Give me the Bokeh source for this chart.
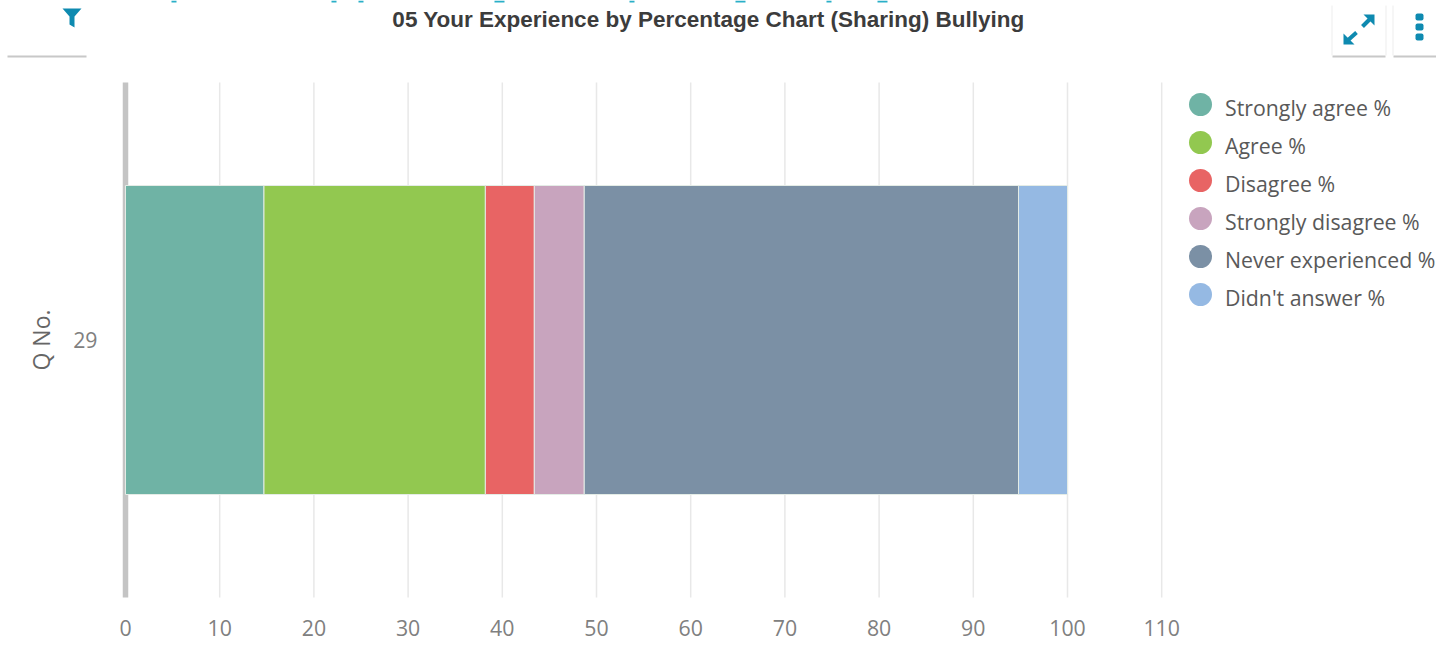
from bokeh.plotting import figure
from bokeh.embed import file_html
from bokeh.resources import INLINE
from bokeh.models import (FixedTicker, Range1d, Label, BoxAnnotation, PolyAnnotation,
                          Arrow, LinearAxis)
from bokeh.core.properties import value

categories = ["29"]
series = ["Strongly agree %", "Agree %", "Disagree %", "Strongly disagree %",
          "Never experienced %", "Didn't answer %"]
strongly_agree = [14.7]
agree = [23.5]
disagree = [5.2]
strongly_disagree = [5.3]
never_experienced = [46.1]
didnt_answer = [5.2]
colors = ["#6FB3A5", "#92C850", "#E86464", "#C8A4BE", "#7B90A5", "#95B9E3"]
x_ticks = list(range(0, 111, 10))
title_text = "05 Your Experience by Percentage Chart (Sharing) Bullying"
y_title = "Q No."

W, H = 1436, 653
LEFT, TOP, BOTTOM = 125, 82, 597
PX_PER_UNIT = 9.42
PX_PER_ROW = BOTTOM - TOP
FONT = "Open Sans"
ICON = "#0E8AB0"
SIZE = "21.3px"
ROW_LOW, ROW_HIGH = -0.5, len(categories) - 0.5

# the frame fills the canvas so that the page's buttons and icons can be drawn on it;
# the axes are pinned to the plot area with fixed_location
p = figure(width=W, height=H, output_backend="svg", toolbar_location=None,
           x_axis_location=None, y_axis_location=None,
           x_range=Range1d(-LEFT / PX_PER_UNIT, (W - LEFT) / PX_PER_UNIT),
           y_range=Range1d(ROW_LOW - (H - BOTTOM) / PX_PER_ROW, ROW_HIGH + TOP / PX_PER_ROW),
           min_border=0, outline_line_color=None,
           background_fill_color="white", border_fill_color="white")
p.center = []
p.extra_x_ranges["px"] = Range1d(0, W)
p.extra_y_ranges["px"] = Range1d(H, 0)

# vertical grid lines, limited to the plot area
grid_ticks = x_ticks[1:]
p.segment(x0=grid_ticks, x1=grid_ticks, y0=[ROW_LOW] * len(grid_ticks), y1=[ROW_HIGH] * len(grid_ticks),
          line_color="#E8E8E8", line_width=1.5, level="underlay")

positions = list(range(len(categories)))
data = dict(q=positions)
for name, vals in zip(series, [strongly_agree, agree, disagree, strongly_disagree,
                               never_experienced, didnt_answer]):
    data[name] = vals
p.hbar_stack(series, y="q", height=0.6, color=colors, source=data,
             line_color="#E4ECE6", line_width=1)

# axes
xaxis = LinearAxis(fixed_location=ROW_LOW, ticker=FixedTicker(ticks=x_ticks),
                   axis_line_color=None, major_tick_line_color=None, minor_tick_line_color=None,
                   major_label_text_font=FONT, major_label_text_font_size=SIZE,
                   major_label_text_color="#808080", major_label_standoff=16)
p.add_layout(xaxis, "below")

yaxis = LinearAxis(fixed_location=0, ticker=FixedTicker(ticks=positions),
                   major_label_overrides=dict(zip(positions, categories)),
                   bounds=(ROW_LOW, ROW_HIGH), level="underlay",
                   axis_label=y_title, axis_label_text_font=FONT,
                   axis_label_text_font_style="normal", axis_label_text_font_size="23px",
                   axis_label_text_color="#666666", axis_label_standoff=13,
                   axis_line_color="#C4C4C4", axis_line_width=5.5,
                   major_tick_line_color=None, minor_tick_line_color=None,
                   major_label_text_font=FONT, major_label_text_font_size=SIZE,
                   major_label_text_color="#808080", major_label_standoff=22)
p.add_layout(yaxis, "left")

# legend, drawn in pixel-like ranges so the markers keep the reference's size
legend_ys = [104, 142, 180, 218, 256, 294]
p.scatter(x=[1200] * 6, y=legend_ys, size=23, color=colors, line_color=None,
          x_range_name="px", y_range_name="px")
p.text(x=[1224.5] * 6, y=[v + 3 for v in legend_ys], text=series, text_font=value(FONT),
       text_font_size=SIZE, text_color="#595959", text_baseline="middle",
       x_range_name="px", y_range_name="px")


# "screen" units of annotations count from the frame's lower left corner
def sy(y):
    return H - y


def rect(l, r, t, b, color, **kw):
    p.add_layout(BoxAnnotation(left=l, right=r, top=sy(t), bottom=sy(b),
                               left_units="screen", right_units="screen",
                               top_units="screen", bottom_units="screen",
                               fill_color=color, fill_alpha=1, line_color=None, **kw))


def poly(xs, ys):
    p.add_layout(PolyAnnotation(xs=xs, ys=[sy(v) for v in ys],
                                xs_units="screen", ys_units="screen",
                                fill_color=ICON, fill_alpha=1, line_color=None))


# title
p.add_layout(Label(x=708, y=sy(19), x_units="screen", y_units="screen", text=title_text,
                   text_font="Liberation Sans", text_font_style="bold", text_font_size="22.5px",
                   text_color="#3C3C3C", text_align="center", text_baseline="middle"))

# clipped page heading above the chart
for x0, w in [(171, 5), (331, 5), (358, 5), (494, 10), (629, 5), (735, 10), (826, 5), (877, 10)]:
    rect(x0, x0 + w, 0, 2, "#2AAFC8")

# buttons: soft grey edges
rect(7, 86, 55, 57, "#C8C8C8")
rect(1332, 1385, 55, 57, "#C8C8C8")
rect(1393, 1436, 55, 57, "#C8C8C8")
rect(1331, 1332, 5, 55, "#EDEDED")
rect(1385, 1386, 5, 55, "#EDEDED")
rect(1392, 1393, 5, 55, "#EDEDED")

# filter icon
poly([62, 81, 74, 74, 69, 69], [8, 8, 16, 27, 24, 16])
# expand icon
poly([1343, 1343, 1354], [44, 33, 44])
poly([1374, 1363, 1374], [14, 14, 25])
for (xs, ys, xe, ye) in [(1346, 41, 1356, 32), (1362, 26, 1371, 17)]:
    p.add_layout(Arrow(end=None, x_start=xs, y_start=sy(ys), x_end=xe, y_end=sy(ye),
                       start_units="screen", end_units="screen",
                       line_color=ICON, line_width=4))
# dots icon
for top in (13, 23, 33):
    rect(1415, 1423, top, top + 7, ICON, border_radius=2)

open("out.html", "w").write(file_html(p, INLINE))
